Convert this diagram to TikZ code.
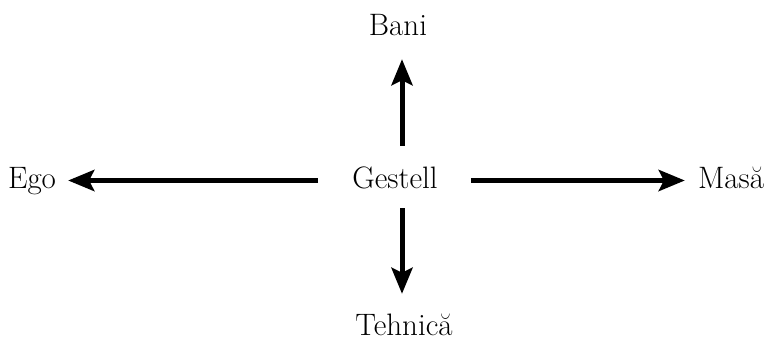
\documentclass[tikz,border=0pt]{standalone}
\usepackage{fontspec}
\usepackage{tikz}
\usetikzlibrary{arrows.meta}

\tikzset{
    word/.style={inner sep=0pt, anchor=base, text height=21pt, text depth=6pt},
    arr/.style={line width=5pt, -{Stealth[length=26pt, width=21pt, inset=5pt]}}
}

\begin{document}
\begin{tikzpicture}[x=1pt, y=-1pt, font=\fontsize{31}{37}\selectfont]
            \useasboundingbox (0,0) rectangle (767,340);

            \node[word] (g) at (395,188) {Gestell};
            \node[word] (bani) at (398,35) {Bani};
            \node[word] (tehnica) at (404,335) {Tehnică};
            \node[word] (ego) at (32,188) {Ego};
            \node[word] (masa) at (731,188) {Masă};

            \draw[arr] ([xshift=7pt, yshift=21pt]g.north) -- ([xshift=4pt, yshift=-18pt]bani.south);
            \draw[arr] ([xshift=7pt, yshift=-14pt]g.south) -- ([xshift=-2pt, yshift=20pt]tehnica.north);
            \draw[arr] ([xshift=-34pt]g.west) -- ([xshift=12pt]ego.east);
            \draw[arr] ([xshift=33pt]g.east) -- ([xshift=-13pt]masa.west);
\end{tikzpicture}
\end{document}
